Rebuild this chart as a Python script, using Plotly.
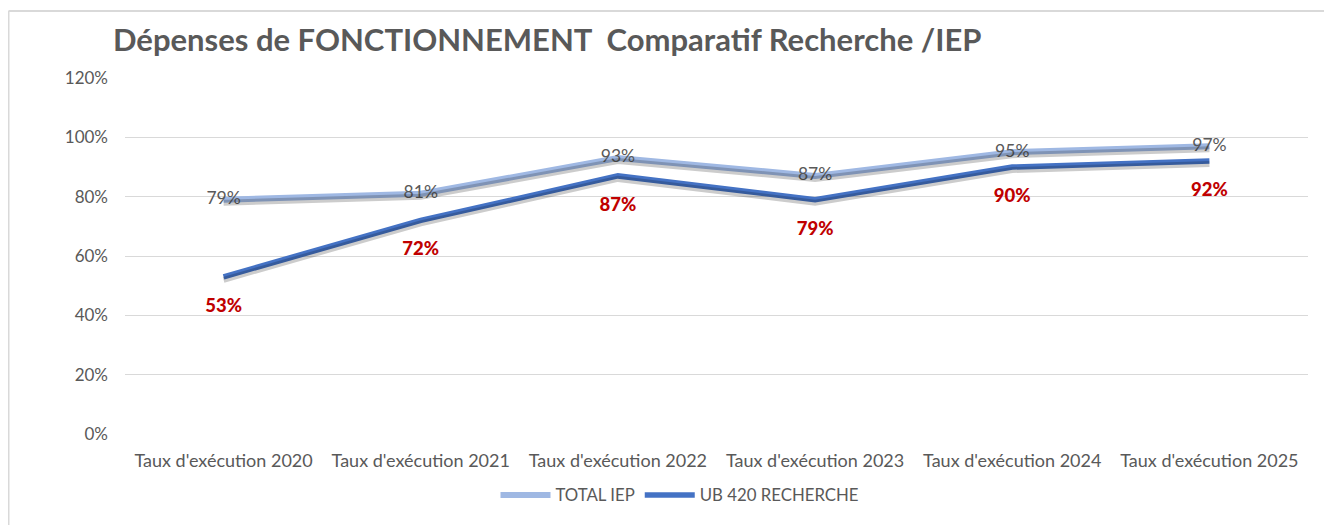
import plotly.graph_objects as go

categories = ["Taux d'exécution 2020", "Taux d'exécution 2021", "Taux d'exécution 2022",
              "Taux d'exécution 2023", "Taux d'exécution 2024", "Taux d'exécution 2025"]
total_iep = [0.79, 0.81, 0.93, 0.87, 0.95, 0.97]
ub420 = [0.53, 0.72, 0.87, 0.79, 0.90, 0.92]
total_labels = ["79%", "81%", "93%", "87%", "95%", "97%"]
ub_labels = ["53%", "72%", "87%", "79%", "90%", "92%"]
y_ticks = [0, 0.2, 0.4, 0.6, 0.8, 1.0, 1.2]
y_tick_labels = ["0%", "20%", "40%", "60%", "80%", "100%", "120%"]

FONT = "Lato"
GREY = "#595959"
LIGHT = "#9fb8e3"
DARK = "#4472c4"
RED = "#c00000"

OFF = 8  # page body margin
W, H = 1332 - OFF, 525 - OFF
ml, mr, mt, mb = 125 - OFF, 24, 78 - OFF, 91
pw, ph = W - ml - mr, H - mt - mb
ymax = 1.2
shadow_px = 3
shift = shadow_px * ymax / ph

fig = go.Figure()

# soft shadows (drawn on an overlay axis shifted a few pixels)
for vals in (total_iep, ub420):
    fig.add_trace(go.Scatter(x=categories, y=vals, mode="lines", yaxis="y2",
                             line=dict(color="rgba(0,0,0,0.20)", width=6),
                             hoverinfo="skip", showlegend=False))

fig.add_trace(go.Scatter(x=categories, y=total_iep, mode="lines", name="TOTAL IEP",
                         line=dict(color=LIGHT, width=6)))
fig.add_trace(go.Scatter(x=categories, y=ub420, mode="lines", name="UB 420 RECHERCHE",
                         line=dict(color=DARK, width=5.5)))

fig.add_trace(go.Scatter(x=categories, y=total_iep, mode="text", text=total_labels,
                         textposition="middle center", showlegend=False, hoverinfo="skip",
                         textfont=dict(family=FONT, size=17.5, color=GREY)))
fig.add_trace(go.Scatter(x=categories, y=ub420, mode="markers+text", text=ub_labels,
                         textposition="bottom center", showlegend=False, hoverinfo="skip",
                         marker=dict(size=32, color="rgba(0,0,0,0)"),
                         textfont=dict(family=FONT, size=18.5, color=RED, weight=900)))

fig.update_layout(
    width=W, height=H,
    margin=dict(l=ml, r=mr, t=mt, b=mb),
    paper_bgcolor="white", plot_bgcolor="white",
    font=dict(family=FONT, color=GREY, size=17),
    title=dict(text="Dépenses de FONCTIONNEMENT\u00a0\u00a0Comparatif Recherche /IEP",
               x=(113 - OFF) / W, xanchor="left", y=1 - (40 - OFF) / H, yanchor="middle",
               font=dict(family=FONT, size=31, color=GREY, weight="bold")),
    xaxis=dict(type="category", range=[-0.5, 5.5], showgrid=False, zeroline=False,
               showline=False, ticks="", ticklabelstandoff=14, tickfont=dict(size=18, color=GREY)),
    yaxis=dict(range=[0, ymax], tickvals=y_ticks, ticktext=y_tick_labels,
               showgrid=True, gridcolor="#d9d9d9", gridwidth=1.3, zeroline=False,
               showline=False, ticks="", ticklabelstandoff=16,
               tickfont=dict(size=17, color=GREY)),
    yaxis2=dict(range=[shift, ymax + shift], overlaying="y", visible=False),
    legend=dict(orientation="h", x=(680 - 125) / (1308 - 125), xanchor="center",
                y=-(495 - 434) / ph, yanchor="middle",
                font=dict(size=16.8, color=GREY), itemwidth=50, traceorder="normal"),
    showlegend=True,
)

# page frame lines (left and top edges)
fx = (8.5 - OFF - ml) / pw
fy = (H - mb - (11 - OFF)) / ph
fig.add_shape(type="line", xref="paper", yref="paper",
              x0=fx, x1=fx, y0=fy, y1=-(mb + 5) / ph,
              line=dict(color="#d9d9d9", width=2))
fig.add_shape(type="line", xref="paper", yref="paper",
              x0=fx, x1=(W + 5 - ml) / pw, y0=fy, y1=fy,
              line=dict(color="#d9d9d9", width=2))

fig.write_html("out.html")
